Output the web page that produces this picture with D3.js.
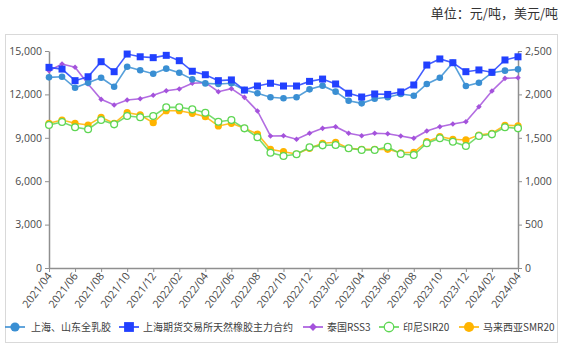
<!DOCTYPE html>
<html>
<head>
<meta charset="utf-8">
<script src="https://cdn.jsdelivr.net/npm/d3@7/dist/d3.min.js"></script>
<style>
  html, body { margin: 0; padding: 0; background: #fff; }
  svg { display: block; font-family: "Noto Sans CJK SC", "Noto Sans", sans-serif; }
</style>
</head>
<body>
<svg id="chart" width="561" height="348"></svg>
<script>
// Monthly observations, 2021/04 – 2024/04
const months = [
  "2021/04","2021/05","2021/06","2021/07","2021/08","2021/09","2021/10","2021/11","2021/12",
  "2022/01","2022/02","2022/03","2022/04","2022/05","2022/06","2022/07","2022/08","2022/09",
  "2022/10","2022/11","2022/12","2023/01","2023/02","2023/03","2023/04","2023/05","2023/06",
  "2023/07","2023/08","2023/09","2023/10","2023/11","2023/12","2024/01","2024/02","2024/03","2024/04"
];

// Left axis series (元/吨)
const shMilk = [13180,13220,12460,12810,13150,12530,13910,13670,13430,13780,13500,13040,12760,12720,12770,12300,12080,11800,11730,11800,12350,12600,12190,11560,11380,11700,11800,12030,11910,12720,13150,14190,12580,12810,13500,13640,13730];
const shfe = [13870,13750,12950,13220,14260,13570,14790,14600,14540,14700,14330,13600,13360,12950,13000,12300,12580,12770,12580,12580,12900,13060,12720,12080,11820,12030,12000,12170,12650,14030,14450,14190,13570,13690,13530,14380,14600];

// Right axis series (美元/吨)
const thRSS3 = [2273,2350,2312,2120,1943,1878,1935,1950,1990,2042,2062,2128,2135,2031,2066,1966,1809,1521,1524,1483,1552,1609,1628,1552,1524,1552,1547,1521,1494,1578,1628,1659,1685,1858,2039,2185,2192];
const idSIR20 = [1647,1682,1621,1598,1705,1655,1751,1736,1751,1851,1851,1828,1789,1685,1705,1609,1506,1328,1290,1310,1390,1413,1417,1379,1359,1359,1397,1313,1302,1437,1494,1455,1405,1521,1540,1621,1609];
const mySMR20 = [1667,1705,1667,1647,1736,1667,1789,1763,1674,1812,1812,1782,1743,1636,1667,1609,1544,1367,1340,1313,1379,1437,1448,1379,1367,1367,1367,1328,1333,1455,1513,1483,1475,1532,1552,1644,1639];

const leftTicks = [0,3000,6000,9000,12000,15000];
const rightTicks = [0,500,1000,1500,2000,2500];
const xTickLabels = months.filter((m, i) => i % 2 === 0);

const unitText = "单位：元/吨，美元/吨";

const series = [
  { name: "上海、山东全乳胶", values: shMilk, axis: "left", color: "#3a8fd3", marker: "circle" },
  { name: "上海期货交易所天然橡胶主力合约", values: shfe, axis: "left", color: "#2140ff", marker: "square" },
  { name: "泰国RSS3", values: thRSS3, axis: "right", color: "#a452dc", marker: "diamond" },
  { name: "印尼SIR20", values: idSIR20, axis: "right", color: "#5ed653", marker: "open" },
  { name: "马来西亚SMR20", values: mySMR20, axis: "right", color: "#ffb400", marker: "dot" }
];

const svg = d3.select("#chart");
const plotLeft = 49, plotRight = 518, plotTop = 51, plotBottom = 268;

const x = d3.scalePoint().domain(months).range([plotLeft, plotRight]);
const yL = d3.scaleLinear().domain([0, 15000]).range([plotBottom, plotTop]);
const yR = d3.scaleLinear().domain([0, 2500]).range([plotBottom, plotTop]);

// outer frame
svg.append("rect")
  .attr("x", 5.5).attr("y", 34.5).attr("width", 552).attr("height", 308)
  .attr("fill", "none").attr("stroke", "#d9d9d9").attr("stroke-width", 1);

// unit note
svg.append("text")
  .attr("x", 558).attr("y", 18)
  .attr("text-anchor", "end")
  .attr("font-size", 13)
  .attr("fill", "#333")
  .text(unitText);

const fmt = d3.format(",");
const axisColor = "#8f8f8f";
const labelColor = "#4a4a4a";

function styleAxis(g) {
  g.select(".domain").attr("stroke", axisColor).attr("stroke-width", 1.5);
  g.selectAll(".tick line").attr("stroke", axisColor).attr("stroke-width", 1);
  g.selectAll(".tick text").attr("fill", labelColor).attr("font-size", 10.5)
    .attr("font-family", "'Open Sans', 'Noto Sans', sans-serif");
}

svg.append("g")
  .attr("transform", `translate(${plotLeft},0)`)
  .call(d3.axisLeft(yL).tickValues(leftTicks).tickFormat(fmt).tickSize(4).tickSizeOuter(0).tickPadding(3))
  .call(styleAxis);

svg.append("g")
  .attr("transform", `translate(${plotRight},0)`)
  .call(d3.axisRight(yR).tickValues(rightTicks).tickFormat(fmt).tickSize(4).tickSizeOuter(0).tickPadding(3))
  .call(styleAxis);

const xg = svg.append("g")
  .attr("transform", `translate(0,${plotBottom})`)
  .call(d3.axisBottom(x).tickValues(xTickLabels).tickSize(4).tickSizeOuter(0).tickPadding(3))
  .call(styleAxis);
xg.selectAll(".tick text")
  .attr("text-anchor", "end")
  .attr("dy", null).attr("y", 0)
  .attr("transform", "translate(3,8) rotate(-53)")
  .attr("font-size", 10.8);

// point markers
function drawMarker(g, type, color, cx, cy, scale) {
  const s = scale || 1;
  if (type === "circle") {
    g.append("circle").attr("cx", cx).attr("cy", cy).attr("r", 3.3 * s).attr("fill", color);
  } else if (type === "square") {
    g.append("rect").attr("x", cx - 3.5 * s).attr("y", cy - 3.5 * s)
      .attr("width", 7 * s).attr("height", 7 * s).attr("fill", color);
  } else if (type === "diamond") {
    const r = 2.8 * s;
    g.append("path").attr("d", `M${cx},${cy - r}L${cx + r},${cy}L${cx},${cy + r}L${cx - r},${cy}Z`).attr("fill", color);
  } else if (type === "open") {
    g.append("circle").attr("cx", cx).attr("cy", cy).attr("r", 3.4 * s)
      .attr("fill", "#fff").attr("stroke", color).attr("stroke-width", 1.3);
  } else if (type === "dot") {
    g.append("circle").attr("cx", cx).attr("cy", cy).attr("r", 3.6 * s).attr("fill", color);
  }
}

// series lines with markers
const plot = svg.append("g");
const order = [4, 3, 2, 0, 1];
order.forEach(k => {
  const s = series[k];
  const yScale = s.axis === "left" ? yL : yR;
  const line = d3.line().x((d, i) => x(months[i])).y(d => yScale(d));
  const g = plot.append("g");
  g.append("path").datum(s.values)
    .attr("d", line)
    .attr("fill", "none")
    .attr("stroke", s.color)
    .attr("stroke-width", 1.6)
    .attr("stroke-opacity", 0.85);
  s.values.forEach((v, i) => drawMarker(g, s.marker, s.color, x(months[i]), yScale(v)));
});

// legend
const legendY = 327;
const legendItems = [
  { k: 0, x0: 5, tx: 31 },
  { k: 1, x0: 119, tx: 143 },
  { k: 2, x0: 303, tx: 327 },
  { k: 3, x0: 379, tx: 403 },
  { k: 4, x0: 459, tx: 483 }
];
const lg = svg.append("g");
legendItems.forEach(it => {
  const s = series[it.k];
  lg.append("line").attr("x1", it.x0).attr("x2", it.x0 + 20)
    .attr("y1", legendY).attr("y2", legendY)
    .attr("stroke", s.color).attr("stroke-width", 1.6);
  drawMarker(lg, s.marker, s.color, it.x0 + 10, legendY, 1.4);
  lg.append("text").attr("x", it.tx).attr("y", legendY + 3.6)
    .attr("font-size", 10).attr("fill", "#404040")
    .text(s.name);
});
</script>
</body>
</html>
